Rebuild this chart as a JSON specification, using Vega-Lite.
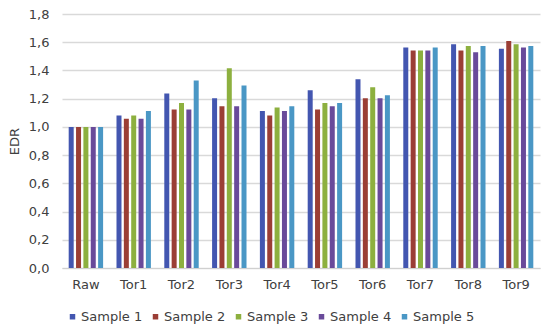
{
  "$schema": "https://vega.github.io/schema/vega-lite/v6.json",
  "autosize": {"type": "none"},
  "padding": {"left": 62, "top": 14, "right": 10, "bottom": 64},
  "width": 478,
  "height": 254,
  "background": "white",
  "config": {"font": "DejaVu Sans", "view": {"stroke": null}},
  "data": {"values": [
    {"c":"Raw","s":"Sample 1","v":1.0},{"c":"Raw","s":"Sample 2","v":1.0},{"c":"Raw","s":"Sample 3","v":1.0},{"c":"Raw","s":"Sample 4","v":1.0},{"c":"Raw","s":"Sample 5","v":1.0},
    {"c":"Tor1","s":"Sample 1","v":1.08},{"c":"Tor1","s":"Sample 2","v":1.057},{"c":"Tor1","s":"Sample 3","v":1.08},{"c":"Tor1","s":"Sample 4","v":1.057},{"c":"Tor1","s":"Sample 5","v":1.113},
    {"c":"Tor2","s":"Sample 1","v":1.236},{"c":"Tor2","s":"Sample 2","v":1.123},{"c":"Tor2","s":"Sample 3","v":1.17},{"c":"Tor2","s":"Sample 4","v":1.123},{"c":"Tor2","s":"Sample 5","v":1.328},
    {"c":"Tor3","s":"Sample 1","v":1.203},{"c":"Tor3","s":"Sample 2","v":1.147},{"c":"Tor3","s":"Sample 3","v":1.416},{"c":"Tor3","s":"Sample 4","v":1.147},{"c":"Tor3","s":"Sample 5","v":1.293},
    {"c":"Tor4","s":"Sample 1","v":1.113},{"c":"Tor4","s":"Sample 2","v":1.08},{"c":"Tor4","s":"Sample 3","v":1.137},{"c":"Tor4","s":"Sample 4","v":1.113},{"c":"Tor4","s":"Sample 5","v":1.147},
    {"c":"Tor5","s":"Sample 1","v":1.26},{"c":"Tor5","s":"Sample 2","v":1.123},{"c":"Tor5","s":"Sample 3","v":1.17},{"c":"Tor5","s":"Sample 4","v":1.147},{"c":"Tor5","s":"Sample 5","v":1.17},
    {"c":"Tor6","s":"Sample 1","v":1.338},{"c":"Tor6","s":"Sample 2","v":1.203},{"c":"Tor6","s":"Sample 3","v":1.281},{"c":"Tor6","s":"Sample 4","v":1.203},{"c":"Tor6","s":"Sample 5","v":1.225},
    {"c":"Tor7","s":"Sample 1","v":1.562},{"c":"Tor7","s":"Sample 2","v":1.541},{"c":"Tor7","s":"Sample 3","v":1.541},{"c":"Tor7","s":"Sample 4","v":1.541},{"c":"Tor7","s":"Sample 5","v":1.562},
    {"c":"Tor8","s":"Sample 1","v":1.586},{"c":"Tor8","s":"Sample 2","v":1.541},{"c":"Tor8","s":"Sample 3","v":1.574},{"c":"Tor8","s":"Sample 4","v":1.529},{"c":"Tor8","s":"Sample 5","v":1.574},
    {"c":"Tor9","s":"Sample 1","v":1.553},{"c":"Tor9","s":"Sample 2","v":1.608},{"c":"Tor9","s":"Sample 3","v":1.586},{"c":"Tor9","s":"Sample 4","v":1.562},{"c":"Tor9","s":"Sample 5","v":1.574}
  ]},
  "mark": {"type": "bar"},
  "encoding": {
    "x": {"field": "c", "type": "nominal", "sort": null,
      "scale": {"paddingInner": 0.28, "paddingOuter": 0.14},
      "axis": {"title": null, "labelAngle": 0, "labelFontSize": 13, "labelColor": "#404040", "labelPadding": 10, "ticks": false, "domainColor": "#d0d0d0", "domainWidth": 1}},
    "xOffset": {"field": "s", "type": "nominal", "scale": {"paddingInner": 0.32}},
    "y": {"field": "v", "type": "quantitative",
      "scale": {"domain": [0, 1.8], "nice": false},
      "axis": {"title": "EDR", "titleFontSize": 13, "titleFontWeight": "normal", "titleColor": "#404040", "titlePadding": 7,
        "values": [0, 0.2, 0.4, 0.6, 0.8, 1.0, 1.2, 1.4, 1.6, 1.8],
        "labelExpr": "replace(format(datum.value, '.1f'), '.', ',')",
        "labelFontSize": 13, "labelColor": "#404040", "labelPadding": 13,
        "ticks": false, "domain": false, "gridColor": "#d9d9d9", "gridWidth": 1.3}},
    "color": {"field": "s", "type": "nominal",
      "scale": {"domain": ["Sample 1","Sample 2","Sample 3","Sample 4","Sample 5"], "range": ["#4356B0","#9B3E35","#8DB03F","#694A9A","#4A97C5"]},
      "legend": {"title": null, "orient": "none", "legendX": 4, "legendY": 296, "direction": "horizontal", "columns": 5,
        "symbolType": "square", "symbolSize": 30, "labelFontSize": 13, "labelColor": "#404040", "columnPadding": 6, "labelOffset": 2}}
  }
}
